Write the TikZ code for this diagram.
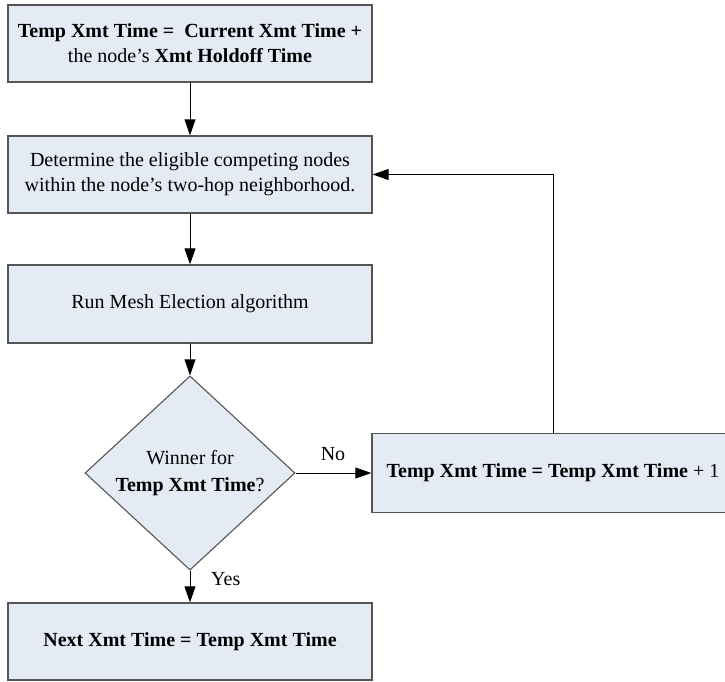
\documentclass[tikz,border=0pt]{standalone}
\usepackage{fontspec}
\setmainfont{Liberation Serif}
\usetikzlibrary{shapes.geometric,arrows.meta}
\definecolor{boxfill}{HTML}{E5EBF5}
\definecolor{boxline}{HTML}{555555}
\tikzset{
  flowbox/.style={draw=boxline, line width=1.3pt, fill=boxfill, rectangle,
    minimum width=364pt, minimum height=77pt, inner sep=0pt, align=center,
    font=\fontsize{20}{25}\selectfont},
  decision/.style={draw=boxline, line width=1.1pt, fill=boxfill, diamond,
    minimum width=210pt, minimum height=157pt, inner sep=0pt, align=center,
    font=\fontsize{20}{27}\selectfont},
  flow/.style={draw=black, line width=0.9pt,
    -{Triangle[length=16pt, width=11pt]}},
  lbl/.style={font=\fontsize{20}{24}\selectfont, inner sep=0pt}
}
\begin{document}
\begin{tikzpicture}[x=1pt, y=-1pt]
  \useasboundingbox (0,0) rectangle (725,681);
  \clip (0,0) rectangle (725,681);

  \node[flowbox] (hold) at (190,43.5)
    {\textbf{Temp Xmt Time =\ \ Current Xmt Time +}\\the node's \textbf{Xmt Holdoff Time}};
  \node[flowbox] (comp) at (190,174.5)
    {Determine the eligible competing nodes\\within the node's two-hop neighborhood.};
  \node[flowbox, minimum height=78pt] (elect) at (190,304)
    {Run Mesh Election algorithm};
  \node[decision] (win) at (190,473)
    {Winner for\\\textbf{Temp Xmt Time}?};
  \node[flowbox, minimum width=362pt, minimum height=79pt] (incr) at (553,473)
    {\textbf{Temp Xmt Time = Temp Xmt Time} + 1};
  \node[flowbox] (next) at (190,641.5)
    {\textbf{Next Xmt Time = Temp Xmt Time}};

  \coordinate (corner) at (incr.north |- comp.east);

  \draw[flow] (hold) -- (comp);
  \draw[flow] (comp) -- (elect);
  \draw[flow] (elect) -- (win);
  \draw[flow] (win.east) -- (win.east -| incr.west);
  \draw[flow] (win.south) -- (next.north);
  \draw[flow] (incr.north) -- (corner) -- (comp.east);

  \node[lbl, anchor=base] (no) at (333,460) {No};
  \node[lbl, anchor=base west] (yes) at (211,585) {Yes};
\end{tikzpicture}
\end{document}
